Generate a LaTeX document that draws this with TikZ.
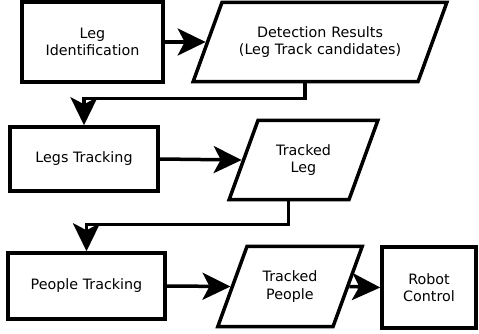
\documentclass[tikz,border=0pt]{standalone}
\usepackage{fontspec}
\setmainfont{DejaVu Sans}
\usepackage{tikz}
\usetikzlibrary{arrows.meta,shapes.geometric}

\begin{document}
\begin{tikzpicture}[x=1pt, y=-1pt,
    every node/.style={font=\fontsize{14.3}{17.5}\selectfont, align=center, inner sep=0pt},
    proc/.style={draw, line width=3.5pt, rectangle},
    data/.style={draw, line width=3.5pt, trapezium, trapezium left angle=70,
        trapezium right angle=110, inner xsep=0pt, inner ysep=24pt},
    flow/.style={line width=3.5pt, -{Stealth[length=28pt, width=27pt, inset=7pt]}}]
    \useasboundingbox (0,0) rectangle (479,334);

    % Leg detection
    \node[proc, minimum width=141, minimum height=80] (legid) at (92.5,42) {Leg\\Identification};
    \node[data, text width=196pt] (detres) at (320,42) {Detection Results\\(Leg Track candidates)};

    % Leg tracking
    \node[proc, minimum width=148, minimum height=64] (legstrk) at (84,159) {Legs Tracking};
    \node[data, text width=91pt] (trkleg) at (303.5,160) {Tracked\\Leg};

    % People tracking and control
    \node[proc, minimum width=157, minimum height=66] (pplstrk) at (86.5,286) {People Tracking};
    \node[data, text width=86pt, inner ysep=24.5pt] (trkppl) at (290,286.5) {Tracked\\People};
    \node[proc, minimum width=94, minimum height=81] (robot) at (429,287.5) {Robot\\Control};

    % Flow arrows
    \draw[flow] (legid.east) -- (detres.left side);
    \draw[flow] (detres.bottom side) -- ++(0,15) -| (legstrk.north);
    \draw[flow] (legstrk.east) -- (trkleg.left side);
    \draw[flow] (trkleg.bottom side) -- ++(0,23) -| (pplstrk.north);
    \draw[flow] (pplstrk.east) -- (trkppl.left side);
    \draw[flow] (trkppl.right side) -- (robot.west);
\end{tikzpicture}
\end{document}
